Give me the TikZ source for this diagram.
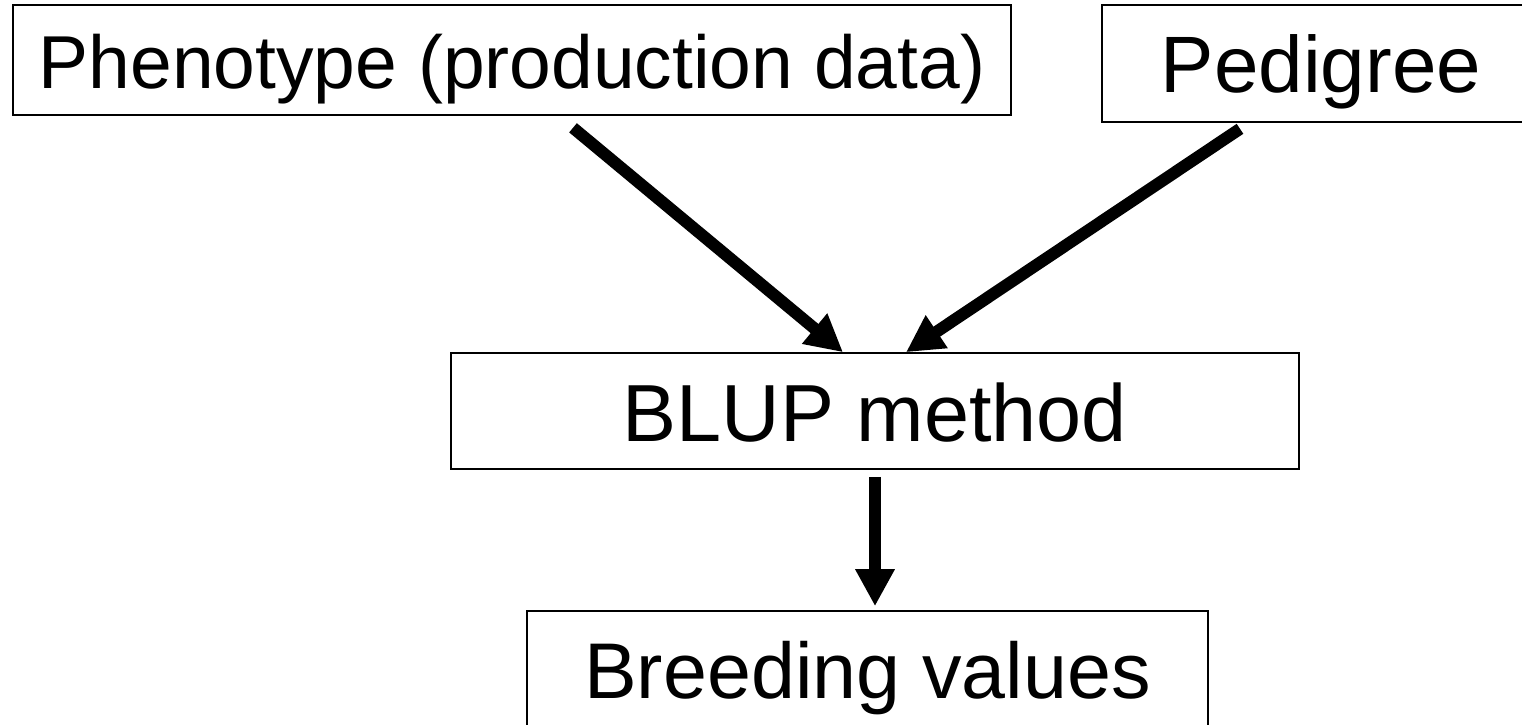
\documentclass[tikz,border=0pt]{standalone}
\usepackage{fontspec}
\setmainfont{Liberation Sans}
\usetikzlibrary{arrows.meta}
\begin{document}
\begin{tikzpicture}[x=1pt,y=-1pt,
  box/.style={draw=black, line width=1.6pt, rectangle, inner sep=0pt, anchor=base},
  arr/.style={line width=12pt, -{Triangle[width=37pt,length=37pt]}}]
\useasboundingbox (0,0) rectangle (1522,724);
\begin{scope}
\clip (0,0) rectangle (1522,724);
\node[box, minimum width=998pt, text height=83pt, text depth=27pt, font=\fontsize{75}{80}\selectfont] (phen) at (512,88) {Phenotype (production data)};
\node[box, minimum width=438pt, text height=87pt, text depth=30pt, font=\fontsize{80}{84}\selectfont] (ped) at (1321,92) {Pedigree};
\node[box, minimum width=848pt, text height=88pt, text depth=28pt, font=\fontsize{81}{86}\selectfont] (blup) at (875,441) {BLUP method};
\node[box, minimum width=681pt, text height=87pt, text depth=51pt, font=\fontsize{79}{83}\selectfont] (breed) at (867.5,698) {Breeding values};
\end{scope}
\draw[arr] ([xshift=61pt,yshift=-12pt]phen.south) -- ([xshift=-32pt]blup.north);
\draw[arr] ([xshift=-81pt,yshift=-6pt]ped.south) -- ([xshift=31pt]blup.north);
\draw[arr] ([yshift=-7pt]blup.south) -- ([xshift=7.5pt,yshift=4pt]breed.north);
\end{tikzpicture}
\end{document}
